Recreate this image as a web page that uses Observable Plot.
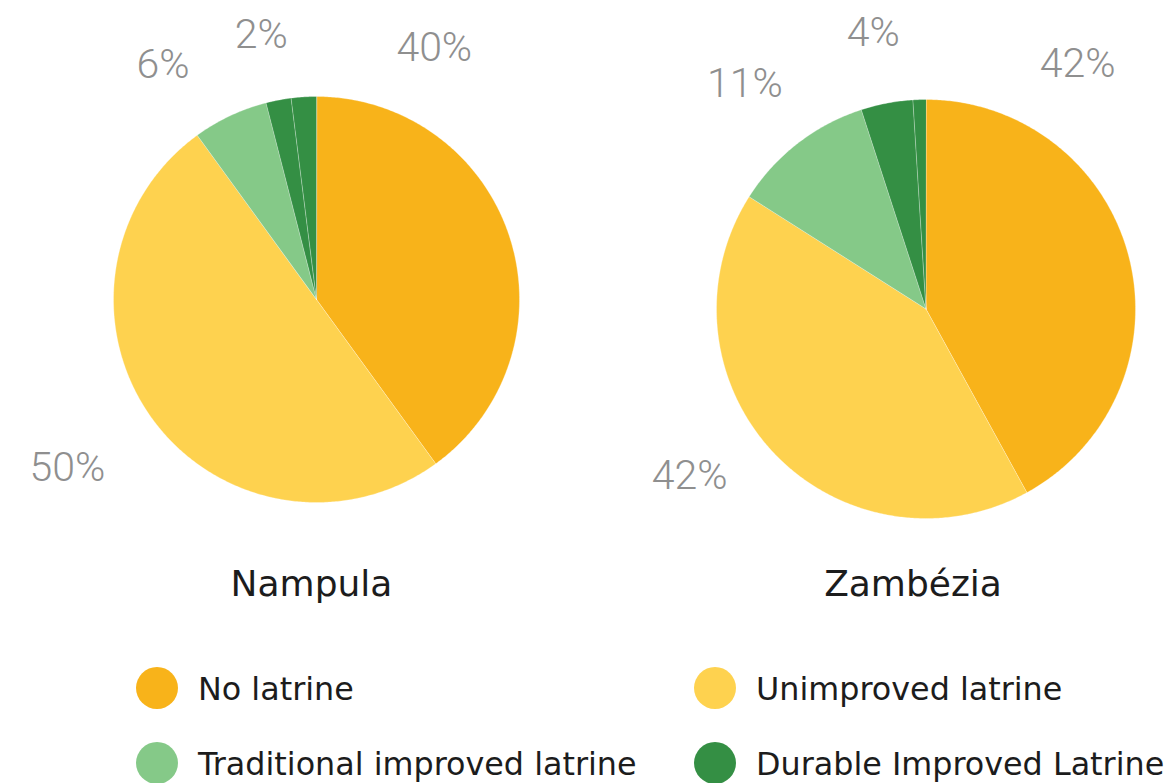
<!DOCTYPE html>
<html><head><meta charset="utf-8">
<script src="https://cdn.jsdelivr.net/npm/d3@7"></script>
<script src="https://cdn.jsdelivr.net/npm/@observablehq/plot@0.6"></script>
<style>
body{margin:0;background:#fff;}
#wrap{position:relative;width:1166px;height:783px;overflow:hidden;font-family:"DejaVu Sans",Verdana,sans-serif;}
.pie{position:absolute;top:0;}
.legend-item{position:absolute;display:flex;align-items:center;height:42px;font-size:31.8px;color:#1c1c1c;white-space:nowrap;}
.sw{width:42px;height:42px;border-radius:50%;margin-right:20px;flex:none;}
</style></head><body><div id="wrap"></div>
<script>
// ---- data ----
const categories = ["No latrine", "Unimproved latrine", "Traditional improved latrine", "Durable Improved Latrine"];
const sliceCategories = [...categories, "Other improved latrine"]; // unlabeled small slice
const colors = ["#F8B31A", "#FED24F", "#85C988", "#348F44", "#348F44"];
const regions = ["Nampula", "Zambézia"];
const nampulaValues = [40, 50, 6, 2, 2];
const zambeziaValues = [42, 42, 11, 4, 1];

// ---- layout (px / label placement tweaks) ----
const layouts = [
  {left: 0, cx: 316, cy: 299, r: 203, titleDx: -5, firstFrac: 0.174, nudgeDeg: [0, 2, -8, -1], rad: [1.37, 1.48, 1.38, 1.33]},
  {left: 583, cx: 342.5, cy: 308.5, r: 209.5, titleDx: -13, firstFrac: 0.21, nudgeDeg: [0, 8, -1, 0], rad: [1.375, 1.38, 1.38, 1.34]}
];
const W = 583, H = 625;

function sliceData(values, L) {
  const total = d3.sum(values);
  let acc = 0;
  const pts = [], labels = [];
  values.forEach((v, i) => {
    const a0 = acc / total * 2 * Math.PI;
    acc += v;
    const a1 = acc / total * 2 * Math.PI;
    const id = i;
    pts.push({id, cat: sliceCategories[i], x: 0, y: 0});
    const n = Math.max(2, Math.ceil((a1 - a0) / (Math.PI / 360)));
    for (let k = 0; k <= n; k++) {
      const a = a0 + (a1 - a0) * k / n;
      pts.push({id, cat: sliceCategories[i], x: Math.sin(a), y: Math.cos(a)});
    }
    if (i < categories.length) {
      const frac = i === 0 ? L.firstFrac : 0.5;
      const am = a0 + (a1 - a0) * frac + L.nudgeDeg[i] * Math.PI / 180;
      const rr = L.rad[i];
      labels.push({text: `${v}%`, x: rr * Math.sin(am), y: rr * Math.cos(am)});
    }
  });
  return {pts, labels};
}

const wrap = document.getElementById("wrap");
[nampulaValues, zambeziaValues].forEach((values, j) => {
  const L = layouts[j];
  const {pts, labels} = sliceData(values, L);
  const chart = Plot.plot({
    width: W, height: H,
    margin: 0,
    x: {domain: [-1, 1], range: [L.cx - L.r, L.cx + L.r], axis: null},
    y: {domain: [-1, 1], range: [L.cy + L.r, L.cy - L.r], axis: null},
    color: {domain: sliceCategories, range: colors},
    style: {background: "white", overflow: "visible"},
    marks: [
      Plot.line(pts, {x: "x", y: "y", z: "id", fill: "cat", stroke: "white", strokeWidth: 0.6, strokeOpacity: 0.5, curve: "linear-closed"}),
      Plot.text(labels, {x: "x", y: "y", text: "text", fill: "#8F8F8F", fontSize: 41, fontWeight: 300, fontFamily: "Roboto, Lato, sans-serif", textAnchor: "middle", lineAnchor: "middle"}),
      Plot.text([regions[j]], {x: () => 0, frameAnchor: "top", dy: 584, dx: L.titleDx, text: d => d, fill: "#1c1c1c", fontSize: 36, fontFamily: "DejaVu Sans, Verdana, sans-serif", textAnchor: "middle", lineAnchor: "middle"})
    ]
  });
  chart.classList.add("pie");
  chart.style.left = L.left + "px";
  wrap.appendChild(chart);
});

// legend
const legendPos = [[136, 667], [694, 667], [136, 742], [694, 742]];
categories.forEach((c, i) => {
  const item = document.createElement("div");
  item.className = "legend-item";
  item.style.left = legendPos[i][0] + "px";
  item.style.top = legendPos[i][1] + "px";
  const sw = document.createElement("div");
  sw.className = "sw";
  sw.style.background = colors[i];
  const t = document.createElement("span");
  t.textContent = c;
  item.appendChild(sw); item.appendChild(t);
  wrap.appendChild(item);
});
</script></body></html>
